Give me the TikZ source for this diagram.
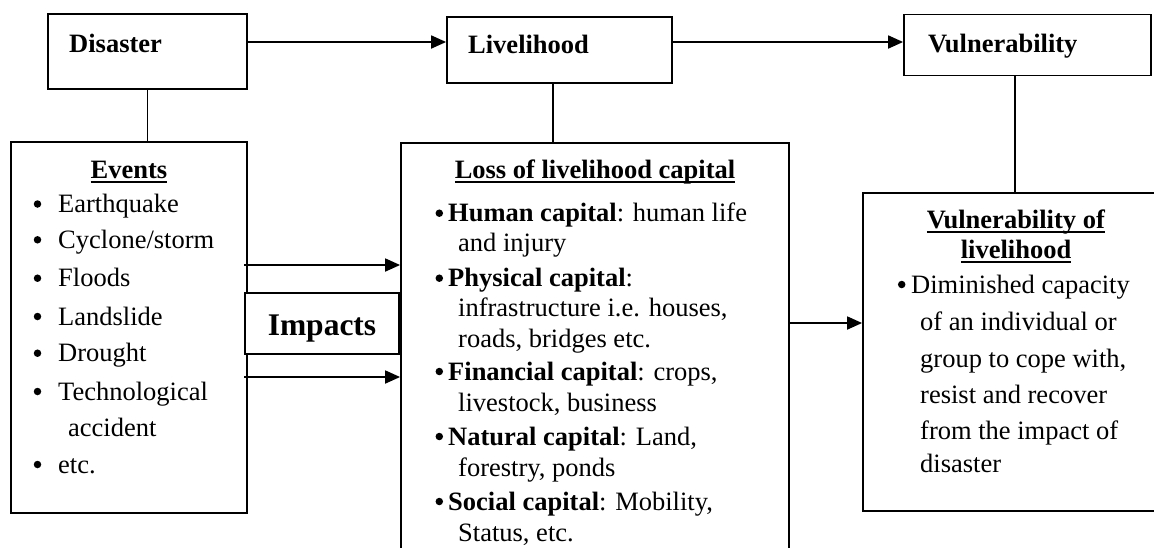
\documentclass[tikz,border=0pt]{standalone}
\usepackage{fontspec}
\setmainfont{Liberation Serif}
\newcommand{\myul}[1]{\setbox0\hbox{#1}\rlap{\rule[-5pt]{\wd0}{1.8pt}}\box0}
\usetikzlibrary{arrows.meta}
\tikzset{
  every node/.style={font=\fontsize{26.5}{31}\selectfont},
  box/.style={draw, line width=1.8pt, inner sep=0pt},
  lbl/.style={anchor=base west, inner sep=0pt},
  ctr/.style={anchor=base, inner sep=0pt},
  bul/.style={circle, fill, inner sep=0pt, minimum size=7.5pt},
  con/.style={line width=1.8pt},
  arr/.style={line width=1.8pt, -{Triangle[length=15pt,width=13pt]}},
}
\begin{document}
\begin{tikzpicture}[x=1pt,y=-1pt]
\useasboundingbox (0,0) rectangle (1154,547);
\clip (0,0) rectangle (1154,547);
% boxes
\node[box, minimum width=199pt, minimum height=75pt] (dis) at (147.5,51.5) {};
\node[box, minimum width=225pt, minimum height=66pt] (liv) at (559.5,50) {};
\node[box, minimum width=247pt, minimum height=61pt] (vul) at (1027.5,45) {};
\node[box, minimum width=236pt, minimum height=371pt] (ev) at (129,327.5) {};
\node[box, minimum width=388pt, minimum height=460pt] (loss) at (595,373) {};
\node[box, minimum width=330pt, minimum height=318pt] (vlv) at (1028,352) {};
\node[box, fill=white, minimum width=154pt, minimum height=61pt] (imp) at (322,323.5) {};
% top labels
\node[lbl] (tdis) at (69,52) {\textbf{Disaster}};
\node[lbl] (tliv) at (468,53) {\textbf{Livelihood}};
\node[lbl] (tvul) at (928,52) {\textbf{Vulnerability}};
\node[ctr, font=\fontsize{31.5}{36}\selectfont] (timp) at (322,335) {\textbf{Impacts}};
% events
\node[ctr] (tev) at (129,178) {\myul{\textbf{Events}}};
\node[bul] (eb1) at (37.5,204) {};
\node[lbl] (e1) at (58,212.7) {Earthquake};
\node[bul] (eb2) at (37.5,239.8) {};
\node[lbl] (e2) at (58,248.3) {Cyclone/storm};
\node[bul] (eb3) at (37.5,278.2) {};
\node[lbl] (e3) at (58,286.7) {Floods};
\node[bul] (eb4) at (37.5,316.5) {};
\node[lbl] (e4) at (58,325) {Landslide};
\node[bul] (eb5) at (37.5,353.2) {};
\node[lbl] (e5) at (58,361.7) {Drought};
\node[bul] (eb6) at (37.5,391.5) {};
\node[lbl] (e6) at (58,400) {Technological};
\node[lbl] (e6b) at (68,436) {accident};
\node[bul] (eb7) at (37.5,464.5) {};
\node[lbl] (e7) at (58,473) {etc.};
% loss of livelihood capital
\node[ctr] (tloss) at (595,178) {\myul{\textbf{Loss of livelihood capital}}};
\node[bul] (lb1) at (439.3,213.2) {};
\node[lbl] (l1) at (448,221.7) {\textbf{Human capital}: human life};
\node[lbl] (l1b) at (458,251.7) {and injury};
\node[bul] (lb2) at (439.3,278.2) {};
\node[lbl] (l2) at (448,286.7) {\textbf{Physical capital}:};
\node[lbl] (l2b) at (458,316.7) {infrastructure i.e. houses,};
\node[lbl] (l2c) at (458,347) {roads, bridges etc.};
\node[bul] (lb3) at (439.3,371.5) {};
\node[lbl] (l3) at (448,380) {\textbf{Financial capital}: crops,};
\node[lbl] (l3b) at (458,411.7) {livestock, business};
\node[bul] (lb4) at (439.3,436.5) {};
\node[lbl] (l4) at (448,445) {\textbf{Natural capital}: Land,};
\node[lbl] (l4b) at (458,476.7) {forestry, ponds};
\node[bul] (lb5) at (439.3,501.5) {};
\node[lbl] (l5) at (448,510) {\textbf{Social capital}: Mobility,};
\node[lbl] (l5b) at (458,541.7) {Status, etc.};
% vulnerability of livelihood
\node[ctr] (tvl1) at (1016,228) {\myul{\textbf{Vulnerability of}}};
\node[ctr] (tvl2) at (1016,258) {\myul{\textbf{livelihood}}};
\node[bul] (vb1) at (901.7,284.5) {};
\node[lbl] (v1) at (911,293) {Diminished capacity};
\node[lbl] (v2) at (920,330) {of an individual or};
\node[lbl] (v3) at (920,367) {group to cope with,};
\node[lbl] (v4) at (920,403) {resist and recover};
\node[lbl] (v5) at (920,439) {from the impact of};
\node[lbl] (v6) at (920,472) {disaster};
% connectors
\draw[arr] (dis.east |- 0,42) -- (liv.west |- 0,42);
\draw[arr] (liv.east |- 0,42) -- (vul.west |- 0,42);
\draw[con] (dis.south) -- (dis.south |- ev.north);
\draw[con] ([xshift=-6.5pt]liv.south) -- ([xshift=-6.5pt]liv.south |- loss.north);
\draw[con] ([xshift=-12.5pt]vul.south) -- ([xshift=-12.5pt]vul.south |- vlv.north);
\draw[arr] (imp.west |- 0,265) -- (loss.west |- 0,265);
\draw[arr] (imp.west |- 0,377) -- (loss.west |- 0,377);
\draw[arr] (loss.east |- 0,323) -- (vlv.west |- 0,323);
\end{tikzpicture}
\end{document}
